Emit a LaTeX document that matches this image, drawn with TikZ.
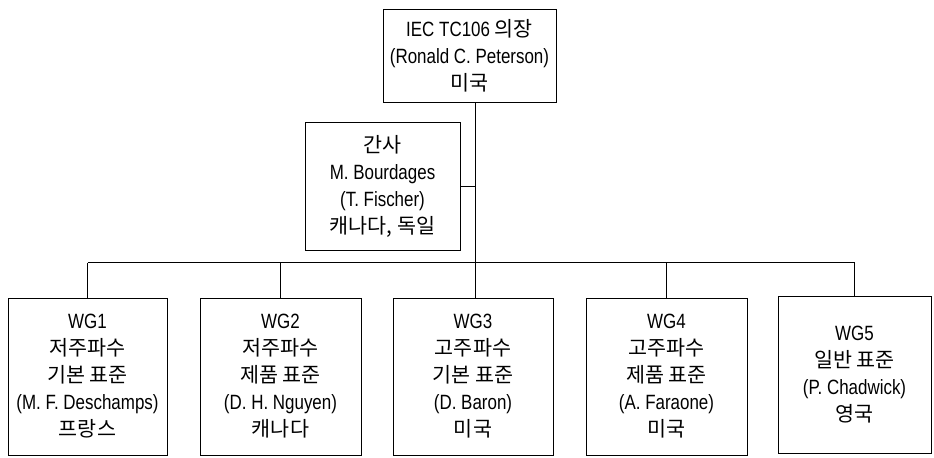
\documentclass[tikz,border=0pt]{standalone}
\usepackage{fontspec}
\setmainfont{Liberation Sans}[FakeStretch=0.82]
\newfontfamily\krfont{Noto Sans CJK KR}
\newcommand{\kr}[1]{{\krfont #1}}
\begin{document}
\begin{tikzpicture}[x=0.75pt, y=-0.75pt, line width=0.6pt,
    orgbox/.style={rectangle, draw, inner sep=0pt, align=center,
      font=\fontsize{15.5}{20.25}\selectfont}]
      \useasboundingbox (0,0) rectangle (934,457);
      % Nodes
      \node[orgbox, minimum width=129.75pt, minimum height=69.75pt] at (469.5, 55.5) (chair) {IEC TC106 \kr{의장}\\(Ronald C. Peterson)\\\kr{미국}};
      \node[orgbox, minimum width=116.25pt, minimum height=96pt] at (382.5, 186) (sec) {\kr{간사}\\M. Bourdages\\(T. Fischer)\\\kr{캐나다, 독일}};
      \node[orgbox, minimum width=119.25pt, minimum height=117.75pt] at (87.5, 376.5) (wg1) {WG1\\\kr{저주파수}\\\kr{기본 표준}\\(M. F. Deschamps)\\\kr{프랑스}};
      \node[orgbox, minimum width=120.75pt, minimum height=117.75pt] at (280.5, 376.5) (wg2) {WG2\\\kr{저주파수}\\\kr{제품 표준}\\(D. H. Nguyen)\\\kr{캐나다}};
      \node[orgbox, minimum width=120pt, minimum height=117.75pt] at (473, 376.5) (wg3) {WG3\\\kr{고주파수}\\\kr{기본 표준}\\(D. Baron)\\\kr{미국}};
      \node[orgbox, minimum width=120.75pt, minimum height=117.75pt] at (666.5, 376.5) (wg4) {WG4\\\kr{고주파수}\\\kr{제품 표준}\\(A. Faraone)\\\kr{미국}};
      \node[orgbox, minimum width=114.75pt, minimum height=117.75pt] at (854.5, 374.5) (wg5) {WG5\\\kr{일반 표준}\\(P. Chadwick)\\\kr{영국}};

      % Connectors
      \coordinate (trunk) at (475.5, 262.5);
      \draw (chair.south -| trunk) -- (wg3.north -| trunk);
      \draw (sec.east) -- (sec.east -| trunk);
      \draw (wg1.north |- trunk) -- (wg5.north |- trunk);
      \foreach \wg in {wg1, wg2, wg4, wg5}
        \draw (\wg.north) -- (\wg.north |- trunk);
    \end{tikzpicture}
\end{document}
